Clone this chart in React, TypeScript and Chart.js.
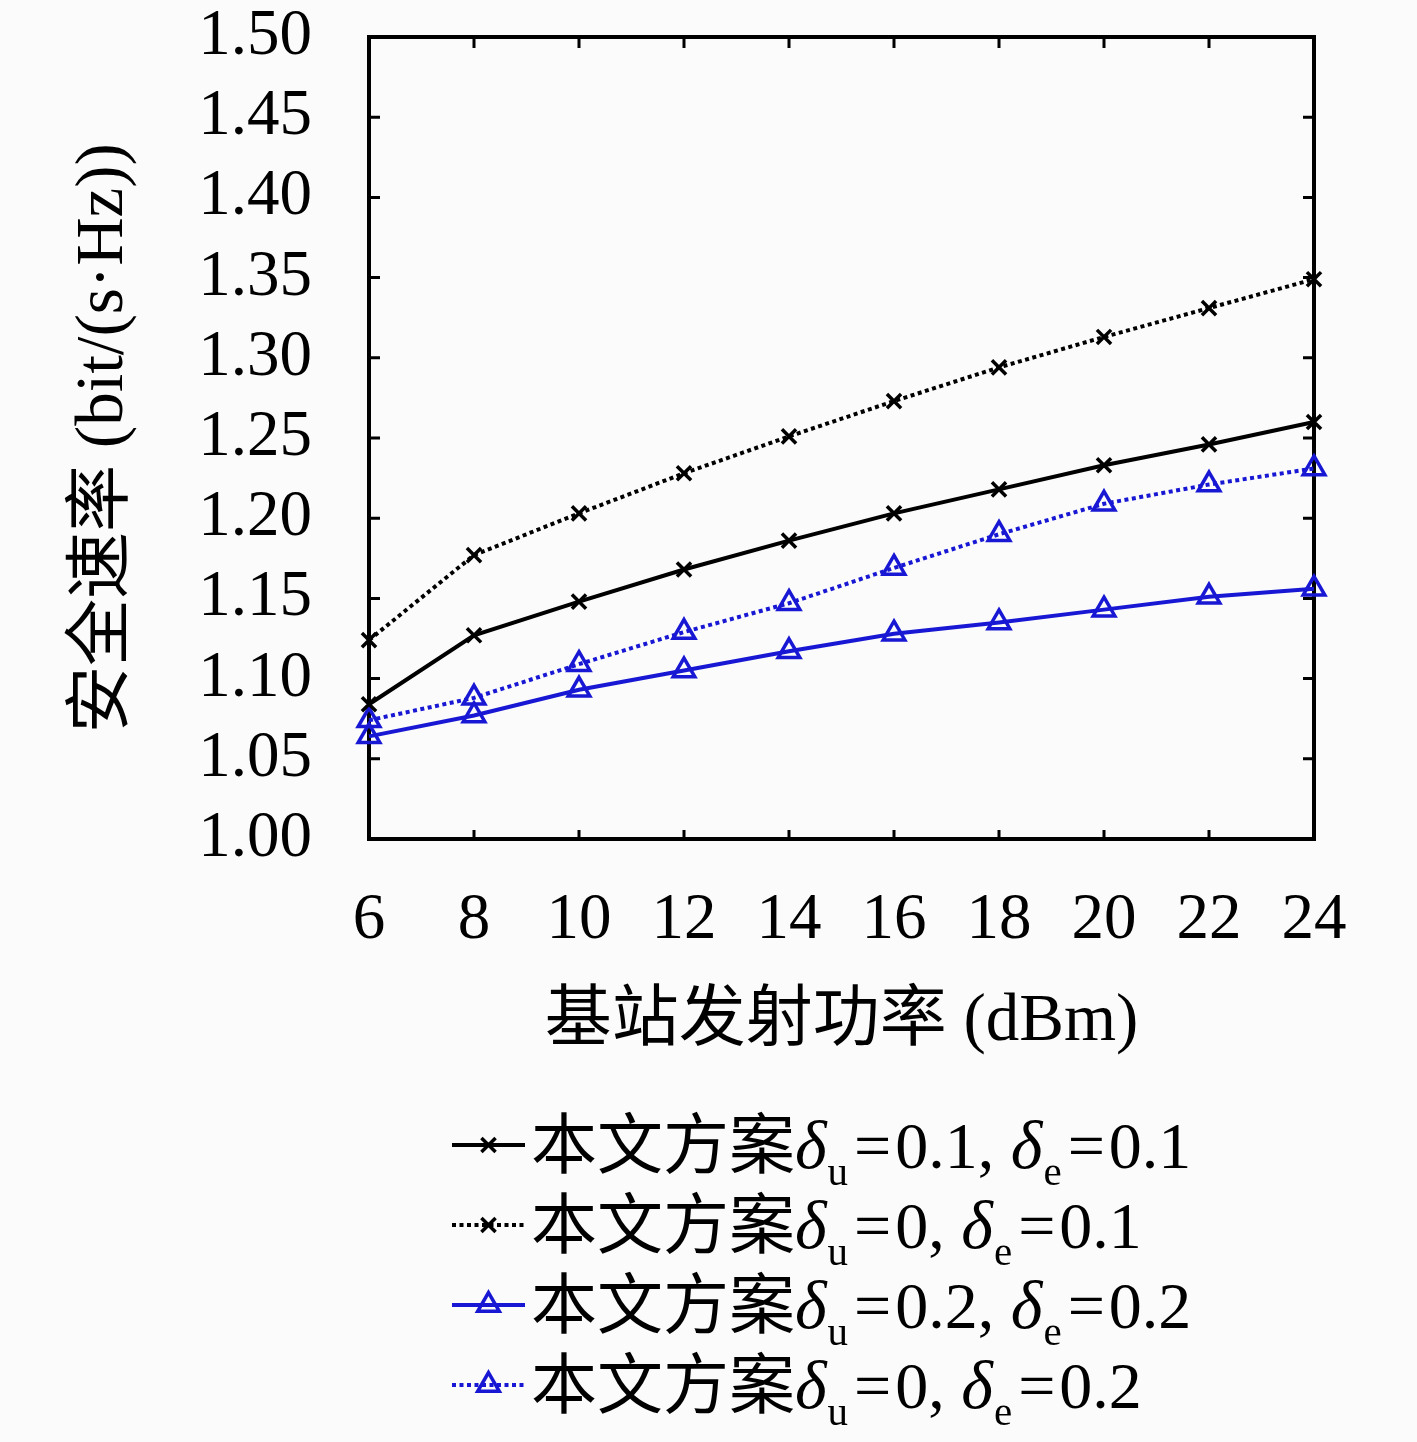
import React, { useEffect, useRef } from "react";
import { Chart, registerables } from "chart.js";
import { drawPoint } from "chart.js/helpers";

Chart.register(...registerables);

// ---- data ----
const xLabels = ["6", "8", "10", "12", "14", "16", "18", "20", "22", "24"];
const seriesA = [1.084, 1.127, 1.148, 1.168, 1.186, 1.203, 1.218, 1.233, 1.246, 1.26];
const seriesB = [1.124, 1.177, 1.203, 1.228, 1.251, 1.273, 1.294, 1.313, 1.331, 1.349];
const seriesC = [1.064, 1.077, 1.093, 1.105, 1.117, 1.128, 1.135, 1.143, 1.151, 1.156];
const seriesD = [1.074, 1.088, 1.109, 1.129, 1.147, 1.169, 1.19, 1.209, 1.221, 1.231];
const seriesLabels = [
  "本文方案δ_u=0.1, δ_e=0.1",
  "本文方案δ_u=0, δ_e=0.1",
  "本文方案δ_u=0.2, δ_e=0.2",
  "本文方案δ_u=0, δ_e=0.2",
];
const yMin = 1.0;
const yMax = 1.5;
const yStep = 0.05;
const xTitle = "基站发射功率 (dBm)";
const yTitle = "安全速率 (bit/(s·Hz))";

// ---- style ----
const BLUE = "#1818d4";
const BG = "#fbfbfb";
const FONT = "'Liberation Serif', 'Noto Sans CJK SC', serif";

const bgPlugin = {
  id: "bgFill",
  beforeDraw(chart: any) {
    const { ctx, width, height } = chart;
    ctx.save();
    ctx.fillStyle = BG;
    ctx.fillRect(0, 0, width, height);
    ctx.restore();
  },
};

const framePlugin = {
  id: "frameTicks",
  beforeDatasetsDraw(chart: any) {
    const { ctx, chartArea } = chart;
    const { left, right, top, bottom } = chartArea;
    const xs = chart.scales.x;
    const ys = chart.scales.y;
    ctx.save();
    ctx.strokeStyle = "#000";
    ctx.lineWidth = 3;
    ctx.beginPath();
    xs.ticks.forEach((_t: any, i: number) => {
      if (i === 0 || i === xs.ticks.length - 1) return;
      const px = xs.getPixelForTick(i);
      ctx.moveTo(px, bottom);
      ctx.lineTo(px, bottom - 9);
      ctx.moveTo(px, top);
      ctx.lineTo(px, top + 11);
    });
    ys.ticks.forEach((t: any, i: number) => {
      if (i === 0 || i === ys.ticks.length - 1) return;
      const py = ys.getPixelForValue(t.value);
      ctx.moveTo(left, py);
      ctx.lineTo(left + 11, py);
      ctx.moveTo(right, py);
      ctx.lineTo(right - 11, py);
    });
    ctx.stroke();
    ctx.lineWidth = 4;
    ctx.strokeRect(left, top, right - left, bottom - top);
    ctx.restore();
  },
};

const LEG_X0 = 452;
const LEG_X1 = 525;
const LEG_TEXT_X = 531;
const LEG_Y0 = 1145;
const LEG_DY = 80;
const LEG_SIZE = 66;
const EQ_GAP = 4;

const legendPlugin = {
  id: "customLegend",
  afterDraw(chart: any) {
    const ctx = chart.ctx;
    chart.data.datasets.forEach((ds: any, i: number) => {
      const y = LEG_Y0 + i * LEG_DY;
      ctx.save();
      ctx.strokeStyle = ds.borderColor;
      ctx.lineWidth = ds.borderWidth;
      ctx.setLineDash(ds.borderDash || []);
      ctx.beginPath();
      ctx.moveTo(LEG_X0, y);
      ctx.lineTo(LEG_X1, y);
      ctx.stroke();
      ctx.setLineDash([]);
      ctx.strokeStyle = ds.pointBorderColor;
      ctx.fillStyle = ds.pointBackgroundColor;
      ctx.lineWidth = ds.pointBorderWidth;
      drawPoint(
        ctx,
        {
          pointStyle: ds.pointStyle,
          radius: ds.pointRadius,
          borderWidth: ds.pointBorderWidth,
          rotation: 0,
        } as any,
        (LEG_X0 + LEG_X1) / 2,
        y
      );
      // text with subscripts
      ctx.fillStyle = "#000";
      ctx.textBaseline = "alphabetic";
      ctx.textAlign = "left";
      const base = y + 23;
      let x = LEG_TEXT_X;
      const parts = String(ds.label).split(/(δ_[a-z]|=)/);
      parts.forEach((p: string) => {
        if (!p) return;
        const m = p.match(/^δ_([a-z])$/);
        if (m) {
          ctx.font = `italic ${LEG_SIZE + 2}px ${FONT}`;
          ctx.fillText("δ", x, base);
          x += ctx.measureText("δ").width + 1;
          ctx.font = `${Math.round(LEG_SIZE * 0.62)}px ${FONT}`;
          ctx.fillText(m[1], x, base + 17);
          x += ctx.measureText(m[1]).width + 2;
        } else if (p === "=") {
          ctx.font = `${LEG_SIZE}px ${FONT}`;
          x += EQ_GAP;
          ctx.fillText(p, x, base);
          x += ctx.measureText(p).width + EQ_GAP;
        } else {
          ctx.font = `${LEG_SIZE}px ${FONT}`;
          ctx.fillText(p, x, base);
          x += ctx.measureText(p).width;
        }
      });
      ctx.restore();
    });
  },
};

function makeDataset(label: string, data: number[], color: string, dashed: boolean, tri: boolean) {
  return {
    label,
    data,
    borderColor: color,
    borderWidth: 4,
    borderDash: dashed ? [4, 3.5] : [],
    pointStyle: tri ? "triangle" : "crossRot",
    pointRadius: tri ? 12.5 : 10,
    pointBorderWidth: 3.5,
    pointBorderColor: color,
    pointBackgroundColor: "rgba(0,0,0,0)",
    pointHoverRadius: tri ? 12.5 : 10,
    fill: false,
    tension: 0,
    clip: false as any,
  };
}

export default function App() {
  const ref = useRef<HTMLCanvasElement | null>(null);
  useEffect(() => {
    if (!ref.current) return;
    const chart = new Chart(ref.current, {
      type: "line",
      data: {
        labels: xLabels,
        datasets: [
          makeDataset(seriesLabels[0], seriesA, "#000000", false, false),
          makeDataset(seriesLabels[1], seriesB, "#000000", true, false),
          makeDataset(seriesLabels[2], seriesC, BLUE, false, true),
          makeDataset(seriesLabels[3], seriesD, BLUE, true, true),
        ] as any,
      },
      options: {
        animation: false,
        responsive: true,
        maintainAspectRatio: false,
        devicePixelRatio: 1,
        layout: { padding: { left: 0, top: 37, right: 103, bottom: 1442 - 839 - 240 } },
        plugins: {
          legend: { display: false },
          tooltip: { enabled: false },
        },
        scales: {
          x: {
            type: "category",
            offset: false,
            grid: { display: false },
            border: { display: false },
            ticks: {
              color: "#000",
              padding: 41,
              maxRotation: 0,
              autoSkip: false,
              font: { family: FONT, size: 65, lineHeight: 1 },
            },
            title: {
              display: true,
              text: xTitle,
              color: "#000",
              font: { family: FONT, size: 67, lineHeight: 1.2 },
              padding: { top: 0, bottom: 16 },
            },
            afterFit(scale: any) {
              scale.height = 240;
              scale.paddingLeft = 0;
              scale.paddingRight = 0;
            },
          },
          y: {
            type: "linear",
            min: yMin,
            max: yMax,
            grid: { display: false },
            border: { display: false },
            ticks: {
              stepSize: yStep,
              color: "#000",
              padding: 49,
              font: { family: FONT, size: 65, lineHeight: 1 },
              callback: (v: any) => Number(v).toFixed(2),
            },
            title: {
              display: true,
              text: yTitle,
              color: "#000",
              font: { family: FONT, size: 67, lineHeight: 1.2 },
              padding: { top: 64, bottom: 0 },
            },
            afterFit(scale: any) {
              scale.width = 369;
              scale.paddingTop = 0;
              scale.paddingBottom = 0;
            },
          },
        },
      } as any,
      plugins: [bgPlugin, framePlugin, legendPlugin],
    });
    return () => chart.destroy();
  }, []);
  return (
    <div style={{ position: "absolute", left: 0, top: 0, width: 1417, height: 1442, background: BG }}>
      <canvas ref={ref} style={{ display: "block" }} />
    </div>
  );
}
